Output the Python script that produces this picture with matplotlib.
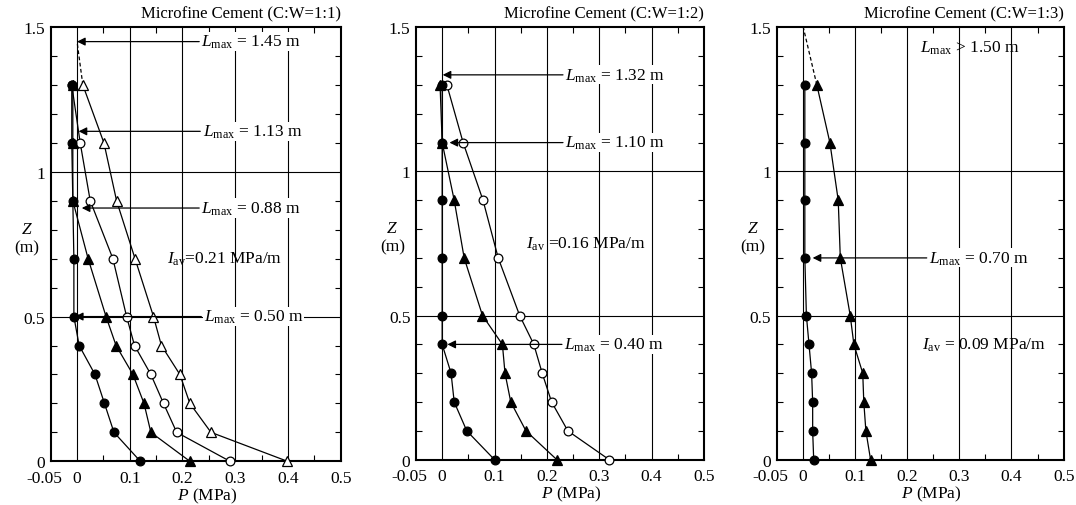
import matplotlib
matplotlib.use("Agg")
import matplotlib.pyplot as plt
from matplotlib.ticker import MultipleLocator

plt.rcParams['font.family'] = ['Liberation Serif', 'DejaVu Serif']
plt.rcParams['mathtext.fontset'] = 'custom'
plt.rcParams['mathtext.rm'] = 'Liberation Serif'
plt.rcParams['mathtext.it'] = 'Liberation Serif:italic'

# depth of each measuring point (m)
z = [1.3, 1.1, 0.9, 0.7, 0.5, 0.4, 0.3, 0.2, 0.1, 0.0]

# C:W = 1:1
p1_fc = [-0.010, -0.010, -0.008, -0.006, -0.006, 0.004, 0.034, 0.052, 0.070, 0.120]
p1_ft = [-0.008, -0.008, -0.008, 0.021, 0.055, 0.074, 0.106, 0.127, 0.140, 0.214]
p1_oc = [-0.010, 0.006, 0.025, 0.068, 0.094, 0.109, 0.140, 0.164, 0.189, 0.290]
p1_ot = [0.011, 0.051, 0.075, 0.110, 0.145, 0.160, 0.195, 0.214, 0.254, 0.399]
p1_dash_p = [0.011, 0.0]
p1_dash_z = [1.3, 1.45]

# C:W = 1:2
p2_fc = [0.0, 0.0, 0.0, 0.0, 0.0, 0.0, 0.017, 0.023, 0.047, 0.100]
p2_ft = [-0.004, 0.0, 0.023, 0.042, 0.077, 0.115, 0.120, 0.131, 0.160, 0.219]
p2_oc = [0.009, 0.040, 0.078, 0.107, 0.148, 0.175, 0.191, 0.209, 0.240, 0.319]

# C:W = 1:3
p3_fc = [0.004, 0.004, 0.004, 0.004, 0.007, 0.012, 0.017, 0.019, 0.019, 0.021]
p3_ft = [0.027, 0.052, 0.068, 0.072, 0.091, 0.098, 0.115, 0.117, 0.121, 0.130]
p3_dash_p = [0.027, 0.001]
p3_dash_z = [1.3, 1.5]

titles = ["Microfine Cement (C:W=1:1)", "Microfine Cement (C:W=1:2)",
          "Microfine Cement (C:W=1:3)"]
xtick_vals = [-0.05, 0, 0.1, 0.2, 0.3, 0.4, 0.5]
xtick_labels = ["-0.05", "0", "0.1", "0.2", "0.3", "0.4", "0.5"]
ytick_vals = [0, 0.5, 1, 1.5]
ytick_labels = ["0", "0.5", "1", "1.5"]

# annotations: (text, text_x, y, arrow_tip_x or None)
notes1 = [(r"$L_{\rm max}$ = 1.45 m", 0.236, 1.45, 0.0),
          (r"$L_{\rm max}$ = 1.13 m", 0.238, 1.14, 0.003),
          (r"$L_{\rm max}$ = 0.88 m", 0.236, 0.875, 0.009),
          (r"$L_{\rm max}$ = 0.50 m", 0.240, 0.5, -0.004),
          (r"$I_{\rm av}$=0.21 MPa/m", 0.170, 0.70, None)]
notes2 = [(r"$L_{\rm max}$ = 1.32 m", 0.235, 1.335, 0.001),
          (r"$L_{\rm max}$ = 1.10 m", 0.235, 1.10, 0.014),
          (r"$I_{\rm av}$ =0.16 MPa/m", 0.161, 0.75, None),
          (r"$L_{\rm max}$ = 0.40 m", 0.233, 0.40, 0.010)]
notes3 = [(r"$L_{\rm max}$ > 1.50 m", 0.225, 1.43, None),
          (r"$L_{\rm max}$ = 0.70 m", 0.242, 0.70, 0.019),
          (r"$I_{\rm av}$ = 0.09 MPa/m", 0.229, 0.40, None)]

FS = 12.5
LW = 0.9
MS = 6.3

fig = plt.figure(figsize=(10.76, 5.06), dpi=100)
axes = [fig.add_axes([0.0471, 0.0864, 0.2695, 0.858]),
        fig.add_axes([0.3866, 0.0895, 0.2677, 0.8546]),
        fig.add_axes([0.7218, 0.0895, 0.2667, 0.8546])]


def style_axis(ax, title):
    ax.set_xlim(-0.05, 0.5)
    ax.set_ylim(0, 1.5)
    for x in [0, 0.1, 0.2, 0.3, 0.4]:
        ax.axvline(x, color='k', lw=0.8, zorder=1)
    for y in [0.5, 1.0]:
        ax.axhline(y, color='k', lw=0.8, zorder=1)
    ax.set_xticks(xtick_vals)
    # the first label is drawn separately, shifted left of the "0"
    ax.set_xticklabels([""] + xtick_labels[1:], fontsize=FS)
    ax.annotate(xtick_labels[0], xy=(xtick_vals[0], 0),
                xycoords=('data', 'axes fraction'), xytext=(8, -6),
                textcoords='offset points', ha='right', va='top', fontsize=FS)
    ax.set_yticks(ytick_vals)
    ax.set_yticklabels(ytick_labels, fontsize=FS)
    ax.xaxis.set_minor_locator(MultipleLocator(0.05))
    ax.yaxis.set_minor_locator(MultipleLocator(0.1))
    ax.tick_params(which='both', direction='in', top=True, right=True)
    ax.tick_params(which='major', length=0)
    ax.tick_params(axis='x', which='major', pad=6)
    ax.tick_params(axis='y', which='major', pad=4)
    ax.tick_params(which='minor', length=4, width=0.8)
    for s in ax.spines.values():
        s.set_linewidth(1.5)
    ax.text(1.0, 1.032, title, transform=ax.transAxes, ha='right', va='center',
            fontsize=FS - 0.5)
    ax.text(-0.082, 0.535, "$Z$", transform=ax.transAxes, ha='center',
            va='center', fontsize=FS)
    ax.text(-0.082, 0.493, "(m)", transform=ax.transAxes, ha='center',
            va='center', fontsize=FS)
    ax.text(0.54, -0.079, "$P$ (MPa)", transform=ax.transAxes, ha='center',
            va='center', fontsize=FS)


def add_notes(ax, notes):
    for text, tx, y, tip in notes:
        if tip is None:
            ax.text(tx, y, text, ha='left', va='center', fontsize=FS, zorder=5)
        else:
            ax.annotate(text, xy=(tip, y), xytext=(tx, y), ha='left', va='center',
                        fontsize=FS, zorder=5,
                        bbox=dict(boxstyle='square,pad=0.05', fc='white', ec='none'),
                        arrowprops=dict(arrowstyle='-|>', color='k', lw=0.9,
                                        mutation_scale=12, shrinkA=1, shrinkB=0))


def series(ax, p, marker, filled):
    face = 'k' if filled else 'white'
    ax.plot(p, z, color='k', lw=LW, marker=marker, ms=MS + (0.8 if marker == '^' else 0),
            mfc=face, mec='k', mew=0.9, zorder=3, clip_on=False)


ax = axes[0]
style_axis(ax, titles[0])
ax.plot(p1_dash_p, p1_dash_z, color='k', lw=LW, ls=(0, (3, 2)), zorder=3)
series(ax, p1_ot, '^', False)
series(ax, p1_oc, 'o', False)
series(ax, p1_ft, '^', True)
series(ax, p1_fc, 'o', True)
add_notes(ax, notes1)

ax = axes[1]
style_axis(ax, titles[1])
series(ax, p2_oc, 'o', False)
series(ax, p2_fc, 'o', True)
series(ax, p2_ft, '^', True)
add_notes(ax, notes2)

ax = axes[2]
style_axis(ax, titles[2])
ax.plot(p3_dash_p, p3_dash_z, color='k', lw=LW, ls=(0, (3, 2)), zorder=3)
series(ax, p3_ft, '^', True)
series(ax, p3_fc, 'o', True)
add_notes(ax, notes3)

fig.savefig("out.png", dpi=100)
